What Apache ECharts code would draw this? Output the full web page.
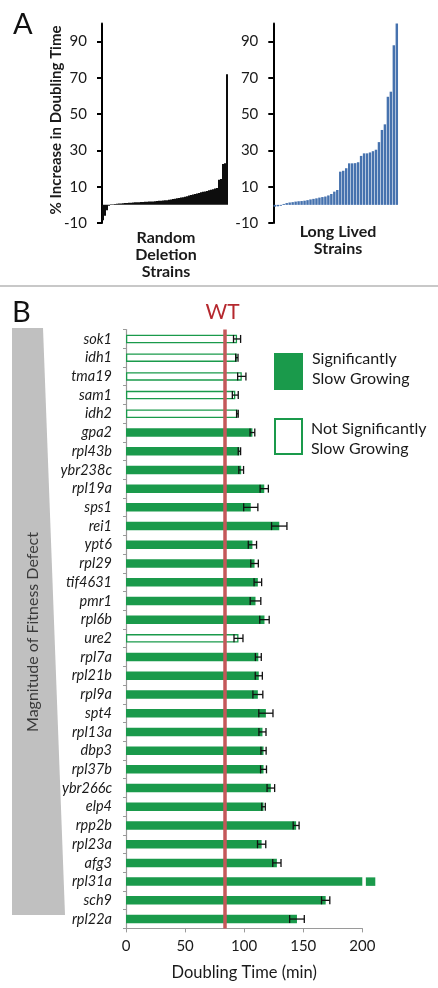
<!DOCTYPE html>
<html><head><meta charset="utf-8">
<script src="https://cdn.jsdelivr.net/npm/echarts@6/dist/echarts.min.js"></script>
<style>html,body{margin:0;padding:0;background:#fff}#c{width:438px;height:988px}</style>
</head><body><div id="c"></div>
<script>
// ---------- Panel A data ----------
const aTickValues = [-10, 10, 30, 50, 70, 90];
const randomDeletion = [
  -8.5, -6, -3, -0.5, 0.3, 0.4, 0.5, 0.6, 0.7, 0.8, 0.9, 1.0, 1.0, 1.1, 1.2, 1.3,
  1.4, 1.5, 1.5, 1.6, 1.6, 1.7, 1.7, 1.8, 1.8, 1.9, 2.0, 2.1, 2.2, 2.3, 2.4, 2.5,
  2.6, 2.8, 3.0, 3.2, 3.4, 3.6, 3.8, 4.0, 4.2, 4.5, 4.8, 5.1, 5.4, 5.7, 6.0, 6.3,
  6.6, 6.9, 7.2, 7.4, 7.7, 8.0, 8.3, 8.6, 9.0, 9.3, 13.8, 14.2, 22.5, 23, 72
];
const longLived = [
  -1.0, -0.8, -0.5, 0.5, 1.0, 1.3, 1.5, 1.8, 2.0, 2.1, 2.3, 2.6, 3.0, 3.3, 3.6, 4.0,
  4.3, 4.6, 5.2, 6.0, 7.3, 8.2, 18.3, 18.8, 20.2, 22.9, 22.9, 23.0, 23.5, 27.0, 28.4,
  28.4, 28.9, 29.6, 30.4, 34.6, 41.3, 44.4, 59.6, 62.4, 88, 100
];

// ---------- Panel B data ----------
const genes = ['sok1','idh1','tma19','sam1','idh2','gpa2','rpl43b','ybr238c','rpl19a','sps1',
  'rei1','ypt6','rpl29','tif4631','pmr1','rpl6b','ure2','rpl7a','rpl21b','rpl9a','spt4',
  'rpl13a','dbp3','rpl37b','ybr266c','elp4','rpp2b','rpl23a','afg3','rpl31a','sch9','rpl22a'];
const doublingTime = [94, 93.8, 98, 92.5, 94.3, 107, 96, 97.5, 117, 105.6,
  129.7, 107, 108.8, 111.6, 109.6, 117.2, 95.2, 112, 112.4, 111.6, 118.4,
  115.5, 116.4, 116.4, 122.6, 116.4, 144, 114.8, 127.7, 211, 169, 144.7];
const doublingErr = [3, 1, 3.5, 2.5, 0.7, 2, 1, 2, 3.5, 6,
  6.5, 3.5, 3.2, 3.2, 4.5, 4, 3.8, 2.5, 3, 4.2, 6,
  3, 2.2, 2.5, 3.2, 1.5, 2.5, 3.5, 3.5, null, 3.5, 6.2];
const significant = [0,0,0,0,0,1,1,1,1,1, 1,1,1,1,1,1,0,1,1,1,1, 1,1,1,1,1,1,1,1,1,1,1];
const wtDoubling = 84;
const xTicksB = [0, 50, 100, 150, 200];
const breakAt = 200, breakGap = 3;

const FONT = 'Lato, "Open Sans", sans-serif';
const GREEN = '#1a9a4b';
const TXT = '#1a1a1a';

const chart = echarts.init(document.getElementById('c'));

function aYAxis(gi) {
  return {
    type: 'value', gridIndex: gi, min: -10, max: 100,
    axisLine: { show: true, lineStyle: { color: '#000', width: 2 } },
    axisTick: { show: true, length: 5, lineStyle: { color: '#000', width: 2 }, customValues: aTickValues },
    axisLabel: { fontFamily: FONT, fontSize: 15, color: TXT, margin: 15, customValues: aTickValues },
    splitLine: { show: false }
  };
}
function aXAxis(gi, arr) {
  return {
    type: 'category', gridIndex: gi, data: arr.map((_, i) => String(i)),
    axisLine: { show: false }, axisTick: { show: false }, axisLabel: { show: false }
  };
}

const sigMain = doublingTime.map((v, i) => significant[i] ? Math.min(v, breakAt) : '-');
const gapPart = doublingTime.map((v, i) => significant[i] && v > breakAt ? breakGap : '-');
const tailPart = doublingTime.map((v, i) => significant[i] && v > breakAt ? v - breakAt - breakGap : '-');
const notSig = doublingTime.map((v, i) => significant[i] ? '-' : v);
const errData = [];
doublingTime.forEach((v, i) => { if (doublingErr[i] != null) errData.push([v, i, doublingErr[i]]); });

const option = {
  animation: false,
  textStyle: { fontFamily: FONT },
  grid: [
    { left: 102, top: 23.5, width: 126, height: 199.5 },
    { left: 273.3, top: 23.5, width: 125, height: 199.5 },
    { left: 126, top: 329.6, width: 236.3, height: 598.8 }
  ],
  xAxis: [
    aXAxis(0, randomDeletion),
    aXAxis(1, longLived),
    {
      type: 'value', gridIndex: 2, min: 0, max: 200, interval: 50,
      axisLine: { show: true, lineStyle: { color: '#9a9a9a', width: 1.2 } },
      axisTick: { show: true, length: 4, lineStyle: { color: '#9a9a9a' } },
      axisLabel: { fontFamily: FONT, fontSize: 15, color: TXT, margin: 10 },
      splitLine: { show: false },
      name: 'Doubling Time (min)', nameLocation: 'middle', nameGap: 36,
      nameTextStyle: { fontFamily: FONT, fontSize: 16.5, color: TXT }
    }
  ],
  yAxis: [
    aYAxis(0), aYAxis(1),
    {
      type: 'category', gridIndex: 2, data: genes, inverse: true,
      axisLine: { show: true, lineStyle: { color: '#9a9a9a', width: 1.2 } },
      axisTick: { show: true, length: 3, interval: 0, lineStyle: { color: '#9a9a9a' } },
      axisLabel: { fontFamily: FONT, fontSize: 14.5, fontStyle: 'italic', color: TXT, margin: 14,
        interval: 0, hideOverlap: false }
    }
  ],
  series: [
    { type: 'bar', xAxisIndex: 0, yAxisIndex: 0, data: randomDeletion, barCategoryGap: '0%',
      itemStyle: { color: '#0d0d0d' }, silent: true },
    { type: 'bar', xAxisIndex: 1, yAxisIndex: 1, data: longLived, barCategoryGap: '18%',
      itemStyle: { color: '#4672ae' }, silent: true },
    { type: 'bar', xAxisIndex: 2, yAxisIndex: 2, stack: 'b', data: sigMain, barWidth: 8.5,
      itemStyle: { color: GREEN }, silent: true,
      markLine: { silent: true, symbol: 'none', label: { show: false },
        lineStyle: { color: '#c4585a', width: 3.5, type: 'solid' },
        data: [{ xAxis: wtDoubling }] } },
    { type: 'bar', xAxisIndex: 2, yAxisIndex: 2, stack: 'b', data: gapPart, barWidth: 8.5,
      itemStyle: { color: 'rgba(0,0,0,0)' }, silent: true },
    { type: 'bar', xAxisIndex: 2, yAxisIndex: 2, stack: 'b', data: tailPart, barWidth: 8.5, clip: false,
      itemStyle: { color: GREEN }, silent: true },
    { type: 'bar', xAxisIndex: 2, yAxisIndex: 2, stack: 'b', data: notSig, barWidth: 8.5,
      itemStyle: { color: '#fff', borderColor: GREEN, borderWidth: 1.3 }, silent: true },
    { type: 'custom', xAxisIndex: 2, yAxisIndex: 2, data: errData, silent: true, z: 5,
      encode: { x: 0, y: 1 },
      renderItem: function (params, api) {
        const v = api.value(0), idx = api.value(1), e = api.value(2);
        const lo = api.coord([v - e, idx]), hi = api.coord([v + e, idx]);
        const h = 4, st = { stroke: '#111', lineWidth: 1.3 };
        return { type: 'group', children: [
          { type: 'line', shape: { x1: lo[0], y1: lo[1], x2: hi[0], y2: hi[1] }, style: st },
          { type: 'line', shape: { x1: lo[0], y1: lo[1] - h, x2: lo[0], y2: lo[1] + h }, style: st },
          { type: 'line', shape: { x1: hi[0], y1: hi[1] - h, x2: hi[0], y2: hi[1] + h }, style: st }
        ] };
      } }
  ],
  graphic: [
    { type: 'text', left: 13, top: 10, style: { text: 'A', fontFamily: FONT, fontSize: 29, fill: '#111' } },
    { type: 'text', x: 56, y: 120, rotation: Math.PI / 2,
      style: { text: '% Increase in Doubling Time', fontFamily: FONT, fontSize: 15, fontWeight: 'bold',
        fill: TXT, align: 'center', verticalAlign: 'middle' } },
    { type: 'text', x: 166, y: 229,
      style: { text: 'Random\nDeletion\nStrains', fontFamily: FONT, fontSize: 16, fontWeight: 'bold',
        fill: TXT, align: 'center', verticalAlign: 'top', lineHeight: 17 } },
    { type: 'text', x: 338, y: 223,
      style: { text: 'Long Lived\nStrains', fontFamily: FONT, fontSize: 16, fontWeight: 'bold',
        fill: TXT, align: 'center', verticalAlign: 'top', lineHeight: 17 } },
    { type: 'line', shape: { x1: 0, y1: 286, x2: 438, y2: 286 }, style: { stroke: '#c8c8c8', lineWidth: 2 } },
    { type: 'text', left: 12, top: 298, style: { text: 'B', fontFamily: FONT, fontSize: 29, fill: '#111' } },
    { type: 'text', x: 222.5, y: 312, style: { text: 'WT', fontFamily: FONT, fontSize: 21, fill: '#b5282e',
        align: 'center', verticalAlign: 'middle' } },
    { type: 'polygon', shape: { points: [[12, 328], [43, 328], [65, 915], [12, 915]] },
      style: { fill: '#c0c0c0' } },
    { type: 'text', x: 33, y: 632, rotation: Math.PI / 2,
      style: { text: 'Magnitude of Fitness Defect', fontFamily: FONT, fontSize: 16,
        fill: '#3a3a3a', align: 'center', verticalAlign: 'middle' } },
    { type: 'rect', shape: { x: 274, y: 353, width: 29, height: 37 }, style: { fill: GREEN } },
    { type: 'rect', shape: { x: 275, y: 419, width: 27, height: 35 },
      style: { fill: '#fff', stroke: GREEN, lineWidth: 2 } },
    { type: 'text', x: 312, y: 359, style: { text: 'Significantly', fontFamily: FONT, fontSize: 16,
        fill: TXT, verticalAlign: 'middle' } },
    { type: 'text', x: 312, y: 379, style: { text: 'Slow Growing', fontFamily: FONT, fontSize: 16,
        fill: TXT, verticalAlign: 'middle' } },
    { type: 'text', x: 311, y: 429, style: { text: 'Not Significantly', fontFamily: FONT, fontSize: 16,
        fill: TXT, verticalAlign: 'middle' } },
    { type: 'text', x: 311, y: 449, style: { text: 'Slow Growing', fontFamily: FONT, fontSize: 16,
        fill: TXT, verticalAlign: 'middle' } }
  ]
};
chart.setOption(option);
</script>
</body></html>
